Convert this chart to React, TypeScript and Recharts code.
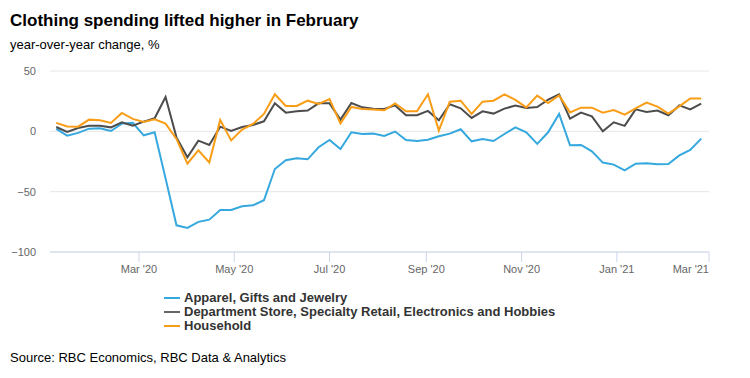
import React from 'react';
import { LineChart, Line, XAxis, YAxis, CartesianGrid } from 'recharts';

// Weekly observations, first week ending Jan 8 2020
const START_DATE = Date.UTC(2020, 0, 8);
const WEEK_MS = 7 * 24 * 3600 * 1000;

const apparel = [2.0, -3.6, -1.3, 2.2, 2.5, 0.3, 6.4, 7.0, -3.3, -0.8, -39, -77.9, -80, -75, -73.2,
  -65.1, -65.1, -62.1, -61.3, -57.1, -31.2, -24, -22.3, -23.2, -13.2, -7.2, -14.6, -0.8, -2.2, -1.9,
  -3.8, -0.2, -7.2, -8, -6.9, -4.1, -1.9, 1.7, -8.3, -6.3, -8, -2.2, 3.3, -0.8, -10.4,
  -0.8, 14.4, -11.6, -11.3, -16.6, -25.9, -27.6, -32.3, -26.8, -26.5, -27.3, -27, -19.9, -15.4, -6];

const deptStore = [3.6, -0.5, 2.8, 4.7, 4.7, 3.3, 7.5, 4.7, 8, 10.8, 28.5, -5, -21.5, -7.7, -11.3,
  3.9, 0.3, 3.6, 5.3, 8.3, 23.2, 15.5, 16.6, 17.2, 23.2, 23.2, 9.7, 23.5, 19.9, 18.8,
  18.5, 21.5, 13.3, 13.3, 16.9, 9.1, 22.4, 19.1, 11.1, 16.6, 14.7, 18.8, 21.3, 19.4, 20.2,
  26.3, 30.7, 10.5, 15.5, 12.4, 0, 7.5, 4.5, 18.2, 16.1, 17.2, 13.3, 21.5, 18.2, 22.9];

const household = [7, 4.1, 3.9, 9.7, 9.1, 7, 15.2, 10.3, 7.8, 9.9, 6.4, -6.3, -26.8, -15.7, -25.7,
  9.4, -7.5, 1.4, 6.1, 14.4, 30.7, 21, 21, 25.4, 22.7, 26.8, 6.6, 20.2, 18.6, 18,
  17.4, 23.2, 16.6, 16.6, 30.7, 0.6, 24.6, 25.4, 14.4, 24.6, 25.4, 30.7, 26, 19.9, 29.6,
  23.5, 29.8, 15.7, 19.6, 19.6, 15.5, 17.7, 13.8, 19.1, 23.8, 20.5, 14.7, 20.7, 27.3, 27.3];

const xTicks = [
  Date.UTC(2020, 2, 1), Date.UTC(2020, 4, 1), Date.UTC(2020, 6, 1), Date.UTC(2020, 8, 1),
  Date.UTC(2020, 10, 1), Date.UTC(2021, 0, 1), Date.UTC(2021, 2, 1),
];
const xTickLabels = ["Mar '20", "May '20", "Jul '20", "Sep '20", "Nov '20", "Jan '21", "Mar '21"];
const xDomain = [Date.UTC(2020, 0, 4), Date.UTC(2021, 2, 1)];
const yTicks = [-100, -50, 0, 50];

const seriesNames = [
  'Apparel, Gifts and Jewelry',
  'Department Store, Specialty Retail, Electronics and Hobbies',
  'Household',
];
const colors = ['#35a8de', '#4d4d4d', '#f99d16'];
const legendColors = ['#35a8de', '#666666', '#f99d16'];

const data = apparel.map((v, i) => ({
  t: START_DATE + i * WEEK_MS,
  apparel: v,
  dept: deptStore[i],
  household: household[i],
}));

const FONT = '"Liberation Sans", Arial, sans-serif';

const XTick = (props: any) => {
  const { x, y, payload, index } = props;
  const i = xTicks.indexOf(payload.value);
  const last = index === xTicks.length - 1;
  return (
    <text x={x} y={y} dy="0.71em" textAnchor={last ? 'end' : 'middle'} fill="#666666" fontSize={11} fontFamily={FONT}>
      {xTickLabels[i]}
    </text>
  );
};

const fmtY = (v: number) => (v < 0 ? '\u2212' + Math.abs(v) : String(v));

export default function App() {
  return (
    <div style={{ position: 'absolute', left: 0, top: 0, width: 750, height: 378, background: '#fff', fontFamily: FONT, color: '#000' }}>
      <div style={{ position: 'absolute', left: 10, top: 12, fontSize: 17, fontWeight: 'bold', lineHeight: '17px', whiteSpace: 'nowrap' }}>
        Clothing spending lifted higher in February
      </div>
      <div style={{ position: 'absolute', left: 10, top: 38, fontSize: 13, lineHeight: '13px', whiteSpace: 'nowrap' }}>
        year-over-year change, %
      </div>
      <div style={{ position: 'absolute', left: 0, top: 0 }}>
        <LineChart width={750} height={378} data={data} margin={{ top: 71, right: 41, bottom: 96, left: 10 }}>
          <CartesianGrid horizontal={true} vertical={false} stroke="#e6e6e6" />
          <XAxis
            dataKey="t"
            type="number"
            domain={xDomain}
            ticks={xTicks}
            interval={0}
            allowDataOverflow
            height={30}
            stroke="#ccd6eb"
            tickSize={10}
            tickMargin={3}
            tickLine={{ stroke: '#ccd6eb' }}
            axisLine={{ stroke: '#ccd6eb' }}
            tick={<XTick />}
          />
          <YAxis
            type="number"
            domain={[-100, 50]}
            ticks={yTicks}
            interval={0}
            width={40}
            axisLine={false}
            tickLine={false}
            tickSize={6}
            tickMargin={8}
            tickFormatter={fmtY}
            tick={{ fill: '#666666', fontSize: 11, fontFamily: FONT }}
          />
          <Line dataKey="apparel" stroke={colors[0]} strokeWidth={2} dot={false} isAnimationActive={false} />
          <Line dataKey="dept" stroke={colors[1]} strokeWidth={2} dot={false} isAnimationActive={false} />
          <Line dataKey="household" stroke={colors[2]} strokeWidth={2} dot={false} isAnimationActive={false} />
        </LineChart>
      </div>
      <div style={{ position: 'absolute', left: 164, top: 291 }}>
        {seriesNames.map((n, i) => (
          <div key={n} style={{ display: 'flex', alignItems: 'center', height: 14, fontSize: 13, fontWeight: 'bold', lineHeight: '14px', whiteSpace: 'nowrap', color: '#333333' }}>
            <span style={{ display: 'inline-block', width: 16, height: 2, background: legendColors[i], marginRight: 4 }} />
            <span>{n}</span>
          </div>
        ))}
      </div>
      <div style={{ position: 'absolute', left: 10, top: 351, fontSize: 13, lineHeight: '13px', whiteSpace: 'nowrap' }}>
        Source: RBC Economics, RBC Data &amp; Analytics
      </div>
    </div>
  );
}
